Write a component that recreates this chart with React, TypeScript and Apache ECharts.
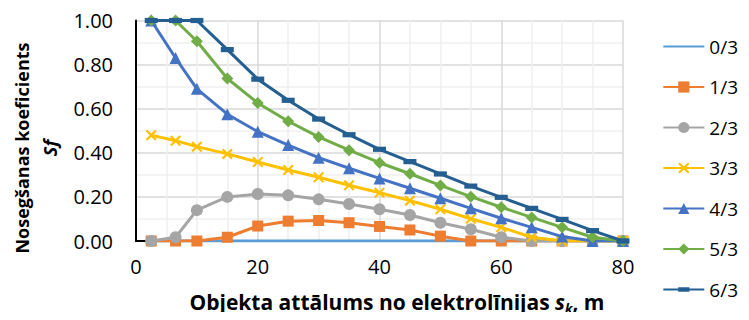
import React, { useEffect, useRef } from "react";
import * as echarts from "echarts";

const xValues = [2.5, 6.5, 10, 15, 20, 25, 30, 35, 40, 45, 50, 55, 60, 65, 70, 75, 80];
const seriesNames = ["0/3", "1/3", "2/3", "3/3", "4/3", "5/3", "6/3"];
const s0 = [0, 0, 0, 0, 0, 0, 0, 0, 0, 0, 0, 0, 0, 0, 0, 0, 0];
const s1 = [0, 0, 0, 0.017, 0.068, 0.09, 0.093, 0.083, 0.066, 0.05, 0.022, 0, 0, 0, 0, 0, 0];
const s2 = [0, 0.017, 0.14, 0.2, 0.213, 0.207, 0.189, 0.168, 0.144, 0.118, 0.083, 0.053, 0.017, 0, 0, 0, 0];
const s3 = [0.48, 0.455, 0.428, 0.395, 0.358, 0.322, 0.289, 0.253, 0.219, 0.183, 0.144, 0.101, 0.062, 0.017, 0, 0, 0];
const s4 = [1.0, 0.83, 0.69, 0.575, 0.496, 0.435, 0.378, 0.33, 0.284, 0.239, 0.194, 0.148, 0.103, 0.062, 0.02, 0, 0];
const s5 = [1.0, 1.0, 0.906, 0.737, 0.626, 0.543, 0.472, 0.412, 0.355, 0.305, 0.252, 0.201, 0.153, 0.107, 0.062, 0.017, 0];
const s6 = [1.0, 1.0, 1.0, 0.868, 0.734, 0.638, 0.553, 0.482, 0.416, 0.36, 0.304, 0.249, 0.198, 0.148, 0.098, 0.047, 0];
const allSeries = [s0, s1, s2, s3, s4, s5, s6];
const colors = ["#5B9BD5", "#ED7D31", "#A5A5A5", "#FFC000", "#4472C4", "#70AD47", "#255E91"];

const crossPath =
  "path://M0,1.4L1.4,0L5,3.6L8.6,0L10,1.4L6.4,5L10,8.6L8.6,10L5,6.4L1.4,10L0,8.6L3.6,5Z";
const dashPath = "path://M0,0M12,12M0,3.6L12,3.6L12,8.4L0,8.4Z";
const symbols: any[] = ["circle", "rect", "circle", crossPath, "triangle", "diamond", dashPath];
const symbolSizes: any[] = [0, 11, 12, 11, 12, 12, 13];

const FONT = "'Open Sans', sans-serif";

export default function App() {
  const ref = useRef<HTMLDivElement>(null);
  useEffect(() => {
    if (!ref.current) return;
    const chart = echarts.init(ref.current, null, { renderer: "svg" });
    const series = seriesNames.map((name, i) => ({
      name,
      type: "line",
      data: xValues.map((x, j) => [x, allSeries[i][j]]),
      showSymbol: i !== 0,
      symbol: symbols[i],
      symbolSize: symbolSizes[i],
      lineStyle: { color: colors[i], width: 3 },
      itemStyle: i === 0 ? { color: colors[i], opacity: 0 } : { color: colors[i] },
      z: 2 + i,
    }));
    chart.setOption({
      animation: false,
      textStyle: { fontFamily: FONT },
      grid: { left: 136, right: 126, top: 20.5, bottom: 79, containLabel: false },
      legend: {
        orient: "vertical",
        right: 11,
        top: 37,
        padding: 0,
        itemWidth: 41,
        itemHeight: 14,
        itemGap: 21.5,
        textStyle: { fontSize: 19, color: "#000", fontFamily: FONT, overflow: "none" },
        data: seriesNames,
      },
      xAxis: {
        type: "value",
        min: 0,
        max: 80,
        interval: 20,
        axisLine: { show: true, lineStyle: { color: "#000", width: 2 } },
        axisTick: { show: false },
        axisLabel: { fontSize: 20, color: "#000", margin: 15, fontFamily: FONT },
        splitLine: { show: true, lineStyle: { color: "#D9D9D9", width: 1.5 } },
        minorTick: { show: false, splitNumber: 4 },
        minorSplitLine: { show: true, lineStyle: { color: "#EFEFEF", width: 1.5 } },
      },
      yAxis: {
        type: "value",
        min: 0,
        max: 1,
        interval: 0.2,
        axisLine: { show: true, onZero: false, lineStyle: { color: "#000", width: 2 } },
        axisTick: { show: false },
        axisLabel: {
          fontSize: 20,
          color: "#000",
          margin: 23,
          fontFamily: FONT,
          formatter: (v: number) => v.toFixed(2),
        },
        splitLine: { show: true, lineStyle: { color: "#D9D9D9", width: 1.5 } },
        minorTick: { show: false, splitNumber: 2 },
        minorSplitLine: { show: true, lineStyle: { color: "#EFEFEF", width: 1.5 } },
      },
      graphic: [
        {
          type: "text",
          x: 22,
          y: 148,
          rotation: Math.PI / 2,
          style: {
            text: "Nosegšanas koeficients",
            font: `bold 18px ${FONT}`,
            fill: "#000",
            align: "center",
            verticalAlign: "middle",
          },
        },
        {
          type: "text",
          x: 50,
          y: 148,
          rotation: Math.PI / 2,
          style: {
            text: "Sf",
            font: `italic bold 18px ${FONT}`,
            fill: "#000",
            align: "center",
            verticalAlign: "middle",
          },
        },
        {
          type: "text",
          x: 397,
          y: 302,
          style: {
            text: "{b|Objekta attālums no elektrolīnijas }{i|s}{sub|k}{b|, m}",
            align: "center",
            verticalAlign: "middle",
            rich: {
              b: { font: `bold 21px ${FONT}`, fill: "#000" },
              i: { font: `italic bold 21px ${FONT}`, fill: "#000" },
              sub: { font: `italic bold 13px ${FONT}`, fill: "#000", padding: [11, 0, 0, 0] },
            },
          },
        },
      ],
      series,
    });
    return () => chart.dispose();
  }, []);
  return <div ref={ref} style={{ width: 749, height: 320, margin: -8 }} />;
}
